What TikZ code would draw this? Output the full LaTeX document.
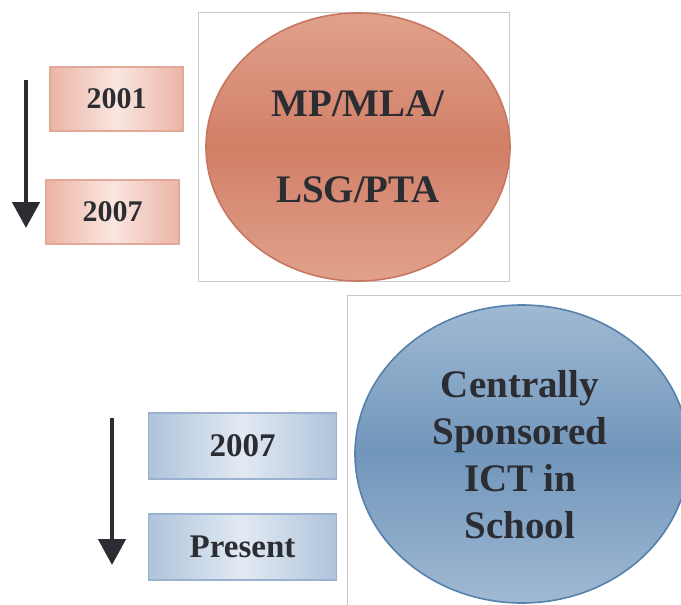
\documentclass[tikz,border=0pt]{standalone}
\usepackage{fontspec}
\setmainfont{Liberation Serif}
\usetikzlibrary{shapes.geometric,arrows.meta}

\definecolor{inkdark}{HTML}{2B2D33}
\definecolor{framegray}{HTML}{C8C8C8}
% salmon palette
\definecolor{salEdge}{HTML}{C97660}
\definecolor{salMid}{HTML}{D27F67}
\definecolor{salLight}{HTML}{E0A18B}
\definecolor{salBoxEdge}{HTML}{E2A898}
\definecolor{salBoxDark}{HTML}{EBB4A6}
\definecolor{salBoxLight}{HTML}{FAE6E0}
% blue palette
\definecolor{bluEdge}{HTML}{5581AC}
\definecolor{bluMid}{HTML}{7196BB}
\definecolor{bluLight}{HTML}{A0B9D3}
\definecolor{bluBoxEdge}{HTML}{9AB2CF}
\definecolor{bluBoxDark}{HTML}{AFC3DB}
\definecolor{bluBoxLight}{HTML}{E2EAF3}

\tikzset{
  panel/.style={draw=framegray, line width=0.8pt, fill=white},
  yearbox/.style={rectangle, line width=1.6pt, inner sep=0pt,
    text=inkdark, font=\bfseries\fontsize{30}{34}\selectfont},
  salbox/.style={yearbox, draw=salBoxEdge, shading angle=30,
    left color=salBoxDark, right color=salBoxDark, middle color=salBoxLight},
  blubox/.style={yearbox, draw=bluBoxEdge, shading angle=30,
    left color=bluBoxDark, right color=bluBoxDark, middle color=bluBoxLight,
    font=\bfseries\fontsize{33}{36}\selectfont},
  disc/.style={ellipse, inner sep=0pt, align=center, text=inkdark, line width=1.6pt},
  timearrow/.style={draw=inkdark, line width=4.8pt,
    -{Triangle[width=27pt,length=26pt]}},
}

\begin{document}
\begin{tikzpicture}[x=1pt,y=-1pt]
  \useasboundingbox (0,0) rectangle (681,605);
  \clip (0,0) rectangle (681,605);

  % ---------- upper period ----------
  \node[panel, rectangle, minimum width=311, minimum height=269, inner sep=0pt,
        anchor=north west] (panelA) at (198,12) {};
  \node[disc, draw=salEdge, top color=salLight, bottom color=salLight, middle color=salMid,
        minimum width=304, minimum height=268,
        font=\bfseries\fontsize{39}{86}\selectfont] (orgA) at (358,147)
        {MP/MLA/\\LSG/PTA};

  \node[salbox, minimum width=133, minimum height=64] (y2001) at (116.5,99) {2001};
  \node[salbox, minimum width=133, minimum height=64] (y2007a) at (112.5,212) {2007};

  \coordinate (arrAtop) at (26,80);
  \coordinate (arrAtip) at (26,228);
  \draw[timearrow] (arrAtop) -- (arrAtip);

  % ---------- lower period ----------
  \node[panel, rectangle, minimum width=360, minimum height=330, inner sep=0pt,
        anchor=north west] (panelB) at (347,295) {};
  \node[disc, draw=bluEdge, top color=bluLight, bottom color=bluLight, middle color=bluMid,
        minimum width=334, minimum height=298] (orgB) at (522,454) {};
  \node[align=center, text=inkdark, inner sep=0pt,
        font=\bfseries\fontsize{39}{47}\selectfont] (orgBtext) at (520,455)
        {Centrally\\Sponsored\\ICT in\\School};

  \node[blubox, minimum width=188, minimum height=66] (y2007b) at (242.5,446) {2007};
  \node[blubox, minimum width=188, minimum height=66] (ypresent) at (242.5,547) {Present};

  \coordinate (arrBtop) at (112,418);
  \coordinate (arrBtip) at (112,565);
  \draw[timearrow] (arrBtop) -- (arrBtip);
\end{tikzpicture}
\end{document}
